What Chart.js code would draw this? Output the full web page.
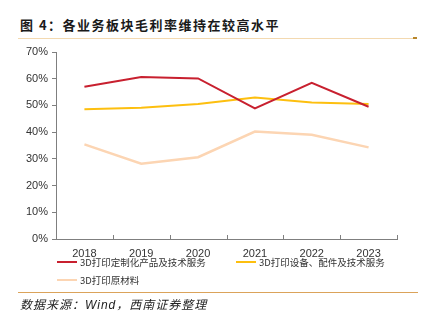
<!DOCTYPE html>
<html>
<head>
<meta charset="utf-8">
<script src="https://cdn.jsdelivr.net/npm/chart.js@4.4.1/dist/chart.umd.min.js"></script>
<style>
  body { margin: 0; width: 421px; height: 324px; background: #fff; position: relative; overflow: hidden; font-family: "Noto Sans CJK SC", sans-serif; }
  #c { position: absolute; left: 0; top: 0; }
  #title { position: absolute; left: 20px; top: 16px; font-size: 13px; font-weight: bold; letter-spacing: 1.5px; color: #1a1a1a; line-height: 18px; }
  .rule { position: absolute; height: 1px; }
  .rule.top { left: 18px; top: 38px; width: 396px; background: #f3d9b0; }
  .rule-end { position: absolute; left: 413px; top: 37px; width: 4px; height: 2px; background: #b8862b; }
  .rule.bottom { left: 18px; top: 292px; width: 400px; background: #dba35a; }
  #legend { position: absolute; left: 57px; top: 253px; display: grid; grid-template-columns: 179px auto; grid-auto-rows: 18px; font-size: 9.5px; color: #333; }
  #legend .item { display: flex; align-items: center; white-space: nowrap; }
  #legend .sw { width: 20px; height: 2px; margin-right: 3px; }
  #source { position: absolute; left: 20px; top: 297px; font-size: 12px; font-style: italic; letter-spacing: 1px; color: #222; font-family: "Liberation Sans", "Noto Sans CJK SC", sans-serif; line-height: 16px; }
</style>
</head>
<body>
<div id="title">图 4：各业务板块毛利率维持在较高水平</div>
<div class="rule top"></div><div class="rule-end"></div>
<canvas id="c" width="421" height="324"></canvas>
<div id="legend"></div>
<div class="rule bottom"></div>
<div id="source">数据来源：Wind，西南证券整理</div>
<script>
  // data (percent)
  const years = ['2018', '2019', '2020', '2021', '2022', '2023']
  const seriesNames = ['3D打印定制化产品及技术服务', '3D打印设备、配件及技术服务', '3D打印原材料']
  const customService = [57.0, 60.6, 60.1, 48.9, 58.5, 49.5]
  const equipment = [48.6, 49.1, 50.5, 53.0, 51.1, 50.5]
  const materials = [35.4, 28.2, 30.6, 40.2, 39.0, 34.3]
  const yTicks = [0, 10, 20, 30, 40, 50, 60, 70]

  const colors = ['#c8202f', '#fdbf0f', '#fcd5b3']
  const axisGray = '#7f7f7f'

  // little upward ticks on the category boundaries
  const innerTicks = {
    id: 'innerTicks',
    afterDraw (chart) {
      const x = chart.scales.x
      const ctx = chart.ctx
      const n = years.length
      ctx.save()
      ctx.strokeStyle = axisGray
      ctx.lineWidth = 1
      for (let i = 0; i <= n; i++) {
        const px = Math.round(x.left + i * x.width / n) + 0.5
        ctx.beginPath()
        ctx.moveTo(px, x.top)
        ctx.lineTo(px, x.top - 4)
        ctx.stroke()
      }
      ctx.restore()
    }
  }

  const tickFont = { family: 'Liberation Sans, Arial, sans-serif', size: 11 }

  new Chart(document.getElementById('c'), {
    type: 'line',
    data: {
      labels: years,
      datasets: [customService, equipment, materials].map((d, i) => ({
        label: seriesNames[i],
        data: d,
        borderColor: colors[i],
        backgroundColor: colors[i],
        borderWidth: i === 2 ? 2.5 : 2,
        pointRadius: 0,
        tension: 0
      }))
    },
    options: {
      responsive: false,
      animation: false,
      layout: { padding: { left: 0, top: 52, right: 24, bottom: 65 } },
      plugins: { legend: { display: false }, tooltip: { enabled: false } },
      scales: {
        x: {
          offset: true,
          afterFit: s => { s.height = 20 },
          border: { color: axisGray, width: 1 },
          grid: { display: true, drawOnChartArea: false, drawTicks: false, color: 'transparent' },
          ticks: { color: '#333', font: tickFont, padding: 8, maxRotation: 0 }
        },
        y: {
          min: 0,
          max: 70,
          afterFit: s => { s.width = 56 },
          afterBuildTicks: s => { s.ticks = yTicks.map(v => ({ value: v })) },
          border: { color: axisGray, width: 1 },
          grid: { drawOnChartArea: false, drawTicks: true, tickLength: 4, color: axisGray },
          ticks: { color: '#333', font: tickFont, padding: 4, callback: v => v + '%' }
        }
      }
    },
    plugins: [innerTicks]
  })

  // legend built from the same series
  const legend = document.getElementById('legend')
  seriesNames.forEach((name, i) => {
    const item = document.createElement('div')
    item.className = 'item'
    item.innerHTML = '<span class="sw" style="background:' + colors[i] + '"></span>' + name
    legend.appendChild(item)
  })
</script>
</body>
</html>
